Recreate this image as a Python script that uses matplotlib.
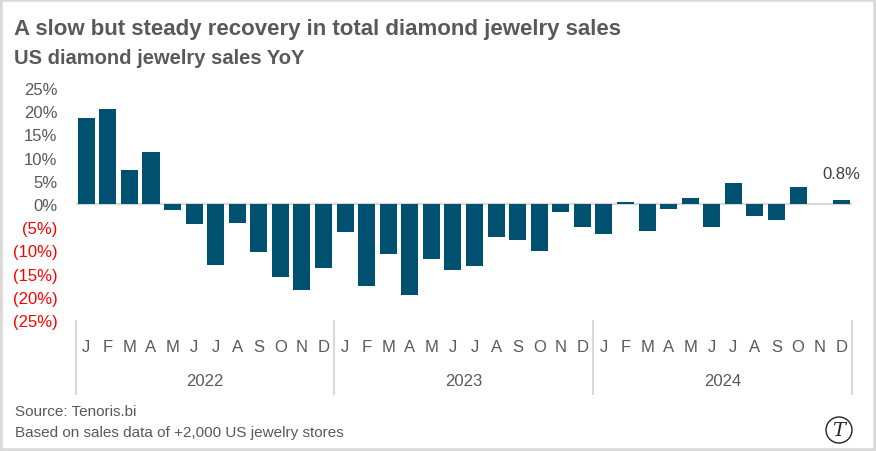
import numpy as np
import matplotlib.pyplot as plt
from matplotlib.patches import Rectangle, Ellipse
from matplotlib.lines import Line2D
import matplotlib.transforms as mtransforms

plt.rcParams['font.family'] = ['Liberation Sans', 'DejaVu Sans']

months = ['J', 'F', 'M', 'A', 'M', 'J', 'J', 'A', 'S', 'O', 'N', 'D']
years = ['2022', '2023', '2024']
yoy = [18.6, 20.5, 7.4, 11.3, -1.3, -4.3, -13.1, -4.1, -10.3, -15.7, -18.5, -13.8,
       -6.0, -17.6, -10.8, -19.6, -11.8, -14.2, -13.3, -7.1, -7.8, -10.1, -1.8, -5.0,
       -6.5, 0.4, -5.8, -1.1, 1.4, -5.0, 4.6, -2.6, -3.5, 3.7, 0.0, 0.8]
yticks = [25, 20, 15, 10, 5, 0, -5, -10, -15, -20, -25]

grey = '#595959'
bar_col = '#00506f'
line_col = '#d9d9d9'

W, H = 876, 452
fig = plt.figure(figsize=(W / 100, H / 100), dpi=100)
ax = fig.add_axes([75.5 / W, 1 - 321 / H, (852 - 75.5) / W, (321 - 89) / H])

x = np.arange(len(yoy))
ax.bar(x, yoy, width=0.79, color=bar_col, zorder=2)
ax.axhline(0, color=line_col, lw=1.6, zorder=1)
ax.set_xlim(-0.5, len(yoy) - 0.5)
ax.set_ylim(-25, 25)
for s in ax.spines.values():
    s.set_visible(False)
ax.set_xticks([])
ax.set_yticks(yticks)
ax.set_yticklabels([f'{v}%' if v >= 0 else f'({-v}%)' for v in yticks])
ax.tick_params(axis='y', length=0, pad=13, labelsize=12)
for lab, v in zip(ax.get_yticklabels(), yticks):
    lab.set_color(grey if v >= 0 else '#ff0000')

# data label on the last bar
ax.annotate(f'{yoy[-1]}%', (x[-1], yoy[-1]), xytext=(0, 14), textcoords='offset points',
            ha='center', va='bottom', fontsize=12, color='#404040')

# month / year axis
tr = mtransforms.blended_transform_factory(ax.transData, fig.transFigure)
for i in x:
    ax.text(i, 1 - 347 / H, months[i % 12], transform=tr, ha='center', va='center',
            fontsize=12, color=grey)
for k, yr in enumerate(years):
    ax.text(12 * k + 5.5, 1 - 382 / H, yr, transform=tr, ha='center', va='center',
            fontsize=12, color=grey)
for k in range(len(years) + 1):
    fig.add_artist(Line2D([12 * k - 0.5] * 2, [1 - 395 / H, 1 - 322 / H], transform=tr,
                          color=line_col, lw=1.5))

# titles and notes
fig.text(14 / W, 1 - 29 / H, 'A slow but steady recovery in total diamond jewelry sales',
         fontsize=16, fontweight='bold', color=grey, va='center')
fig.text(14 / W, 1 - 58 / H, 'US diamond jewelry sales YoY',
         fontsize=14.5, fontweight='bold', color=grey, va='center')
fig.text(15 / W, 1 - 412 / H, 'Source: Tenoris.bi', fontsize=11, color=grey, va='center')
fig.text(15 / W, 1 - 433 / H, 'Based on sales data of +2,000 US jewelry stores',
         fontsize=11, color=grey, va='center')

# logo
fig.add_artist(Ellipse((839 / W, 1 - 431 / H), 26 / W, 26 / H, transform=fig.transFigure,
                       fill=False, ec='#222222', lw=1))
fig.text(839 / W, 1 - 431 / H, 'T', fontsize=14, family='DejaVu Serif', style='italic',
         ha='center', va='center', color='#222222')

# outer frame
fig.add_artist(Rectangle((0, 0), 1, 1, transform=fig.transFigure, fill=False,
                         ec=line_col, lw=4))

fig.savefig('out.png', dpi=100)
